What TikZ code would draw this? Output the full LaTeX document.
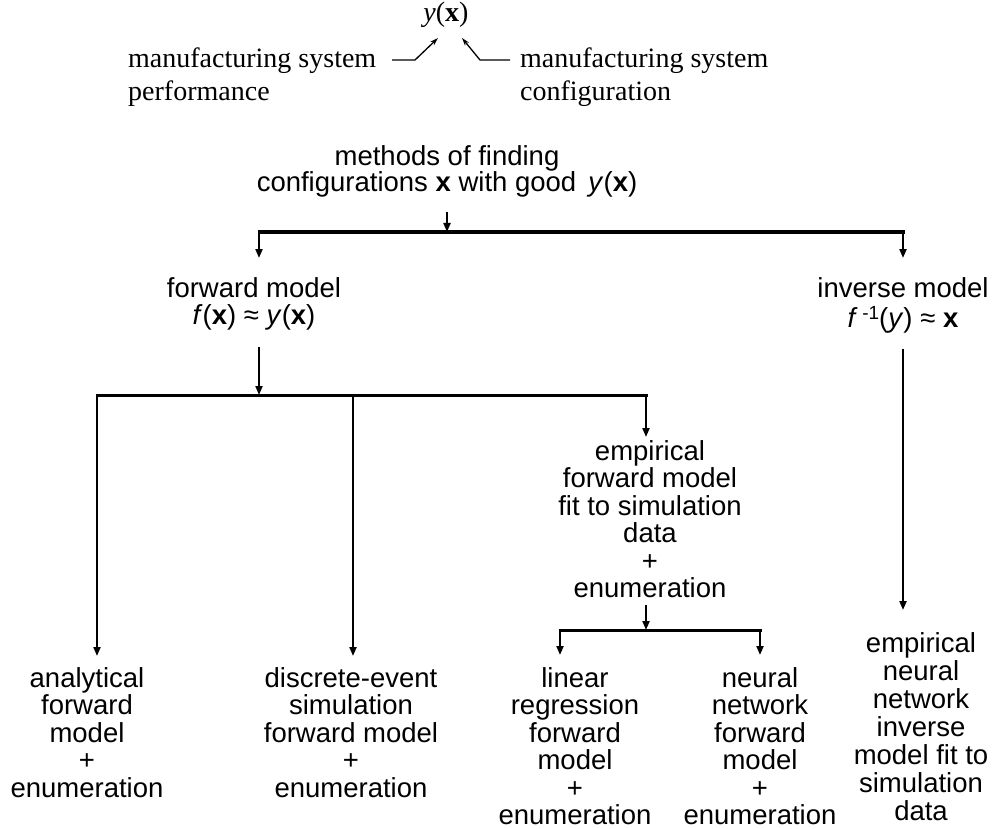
\documentclass[tikz,border=0pt]{standalone}
\usepackage{fontspec}
\setmainfont{Liberation Serif}
\newfontfamily\hv{Liberation Sans}
\usetikzlibrary{arrows.meta}

\tikzset{
  serif label/.style={inner sep=0pt, font=\fontsize{28}{33}\selectfont, align=left},
  sans label/.style={inner sep=0pt, font=\hv\fontsize{27.5}{27.5}\selectfont, align=center, anchor=north},
  flow/.style={line width=2pt, -{Triangle[length=9pt,width=7pt]}},
  bar/.style={line width=3pt},
  thin arrow/.style={line width=1.3pt, -{Stealth[length=8pt,width=5pt]}}
}

\begin{document}
\begin{tikzpicture}[x=1pt,y=-1pt]
\useasboundingbox (0,0) rectangle (993,829);

% ---------- notation y(x) ----------
\node[inner sep=0pt, font=\fontsize{28}{33}\selectfont] (yx) at (446,15) {\textit{y}(\textbf{x})};
\node[serif label, anchor=north west] (perf) at (128,48) {manufacturing system\\performance};
\node[serif label, anchor=north west] (conf) at (520,48) {manufacturing system\\configuration};

\coordinate (pa) at (392,60);
\coordinate (pb) at (415,60);
\coordinate (pt) at (438,38);
\coordinate (ca) at (510,60);
\coordinate (cb) at (480,60);
\coordinate (ct) at (462,38);
\draw[thin arrow] (pa) -- (pb) -- (pt);
\draw[thin arrow] (ca) -- (cb) -- (ct);

% ---------- method tree ----------
\node[sans label, font=\hv\fontsize{27.5}{25}\selectfont] (meth) at (447,145)
  {methods of finding\\configurations \textbf{x} with good\, \textit{y}(\textbf{x})};

\node[sans label] (fwd) at (254,277) {forward model\\\textit{f}(\textbf{x}) ≈ \textit{y}(\textbf{x})};
\node[sans label] (inv) at (903,277)
  {inverse model\\[3pt]\textit{f}\,\raisebox{0.3em}{\fontsize{19}{19}\selectfont -1}(\textit{y}) ≈ \textbf{x}};

\node[sans label] (efwd) at (650,440)
  {empirical\\forward model\\fit to simulation\\data\\+\\enumeration};

\node[sans label] (anal) at (87,667) {analytical\\forward\\model\\+\\enumeration};
\node[sans label] (disc) at (351,667) {discrete-event\\simulation\\forward model\\+\\enumeration};
\node[sans label] (lin)  at (575,667) {linear\\regression\\forward\\model\\+\\enumeration};
\node[sans label] (neur) at (760,667) {neural\\network\\forward\\model\\+\\enumeration};
\node[sans label, font=\hv\fontsize{27.5}{28}\selectfont] (enn) at (921,632)
  {empirical\\neural\\network\\inverse\\model fit to\\simulation\\data};

% junctions on the bars
\coordinate (j0)  at (447,232);
\coordinate (j0l) at (259,232);
\coordinate (j0r) at (903,232);
\coordinate (j1)  at (259,395);
\coordinate (j1l) at (97,395);
\coordinate (j1m) at (353,395);
\coordinate (j1r) at (646,395);
\coordinate (j2)  at (646,630);
\coordinate (j2l) at (560,630);
\coordinate (j2r) at (760,630);

% first split
\draw[flow, shorten <=14pt] (meth.south -| j0) -- (j0);
\draw[bar, line cap=rect] (j0l) -- (j0r);
\draw[flow, shorten >=19pt] (j0l) -- (j0l |- fwd.north);
\draw[flow, shorten >=19pt] (j0r) -- (j0r |- inv.north);

% forward model branch
\draw[flow, shorten <=16pt] (fwd.south -| j1) -- (j1);
\draw[bar, line cap=rect] (j1l) -- (j1r);
\draw[flow, shorten >=11pt] (j1l) -- (j1l |- anal.north);
\draw[flow, shorten >=11pt] (j1m) -- (j1m |- disc.north);
\draw[flow, shorten >=3pt] (j1r) -- (j1r |- efwd.north);

% empirical forward model branch
\draw[flow, shorten <=7pt] (efwd.south -| j2) -- (j2);
\draw[bar, line cap=rect] (j2l) -- (j2r);
\draw[flow, shorten >=12pt] (j2l) -- (j2l |- lin.north);
\draw[flow, shorten >=12pt] (j2r) -- (j2r |- neur.north);

% inverse model branch
\draw[flow, shorten <=15pt, shorten >=22pt] (inv.south) -- (inv.south |- enn.north);

\end{tikzpicture}
\end{document}
